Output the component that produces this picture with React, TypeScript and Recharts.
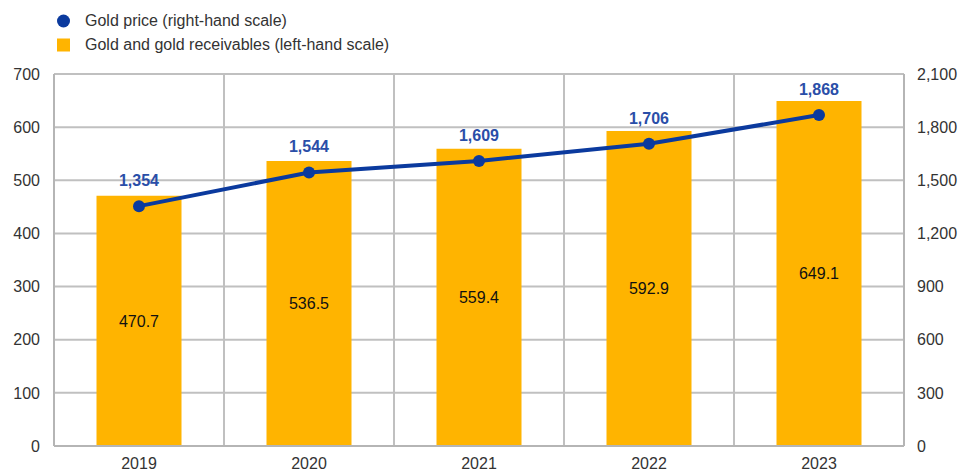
import React from "react";
import {
  ComposedChart,
  Bar,
  Line,
  XAxis,
  YAxis,
  CartesianGrid,
  Legend,
  LabelList,
} from "recharts";

const years = ["2019", "2020", "2021", "2022", "2023"];
const goldHoldings = [470.7, 536.5, 559.4, 592.9, 649.1];
const goldPrice = [1354, 1544, 1609, 1706, 1868];
const leftTicks = [0, 100, 200, 300, 400, 500, 600, 700];
const rightTicks = [0, 300, 600, 900, 1200, 1500, 1800, 2100];

const data = years.map((y, i) => ({
  year: y,
  holdings: goldHoldings[i],
  price: goldPrice[i],
}));

const FONT = "'Liberation Sans', Arial, Helvetica, sans-serif";
const FS = 16;
const BAR = "#FFB400";
const LINE = "#0B3A9E";
const LABEL_BLUE = "#2A4EA8";
const TEXT = "#333333";
const GRID = "#c0c0c0";

const fmt = (v: number) => v.toLocaleString("en-US");

const LegendContent = () => (
  <div style={{ fontFamily: FONT, fontSize: FS, color: TEXT, lineHeight: "24px" }}>
    <div style={{ display: "flex", alignItems: "center", height: 24 }}>
      <svg width={31} height={24}>
        <circle cx={9.5} cy={12} r={6.5} fill={LINE} />
      </svg>
      <span>Gold price (right-hand scale)</span>
    </div>
    <div style={{ display: "flex", alignItems: "center", height: 24 }}>
      <svg width={31} height={24}>
        <rect x={3} y={5.5} width={13} height={13} fill={BAR} />
      </svg>
      <span>Gold and gold receivables (left-hand scale)</span>
    </div>
  </div>
);

export default function App() {
  return (
    <div style={{ position: "absolute", left: 0, top: 0, background: "#fff" }}>
      <ComposedChart
        width={958}
        height={473}
        data={data}
        margin={{ top: 74, right: 0, bottom: 0, left: 0 }}
        barCategoryGap="25%"
      >
        <CartesianGrid
          yAxisId="left"
          stroke={GRID}
          strokeWidth={2}
          verticalCoordinatesGenerator={({ offset }: any) =>
            years
              .map((_, i) => offset.left + ((i + 1) * offset.width) / years.length)
              .slice(0, years.length - 1)
          }
        />
        <XAxis
          dataKey="year"
          tickLine={false}
          axisLine={{ stroke: "#b5b5b5", strokeWidth: 2 }}
          tick={{ fill: TEXT, fontSize: FS, fontFamily: FONT }}
          tickMargin={6}
          height={27}
        />
        <YAxis
          yAxisId="left"
          orientation="left"
          domain={[0, 700]}
          ticks={leftTicks}
          tickLine={false}
          axisLine={{ stroke: "#b5b5b5", strokeWidth: 2 }}
          tick={{ fill: TEXT, fontSize: FS, fontFamily: FONT }}
          tickMargin={8}
          width={54}
          interval={0}
        />
        <YAxis
          yAxisId="right"
          orientation="right"
          domain={[0, 2100]}
          ticks={rightTicks}
          tickLine={false}
          axisLine={{ stroke: "#b5b5b5", strokeWidth: 2 }}
          tick={{ fill: TEXT, fontSize: FS, fontFamily: FONT }}
          tickFormatter={fmt}
          tickMargin={7}
          width={54}
          interval={0}
        />
        <Legend
          content={<LegendContent />}
          layout="horizontal"
          verticalAlign="middle"
          align="center"
          wrapperStyle={{ top: 9, left: 54, width: 500 }}
        />
        <Bar
          yAxisId="left"
          dataKey="holdings"
          name="Gold and gold receivables (left-hand scale)"
          fill={BAR}
          isAnimationActive={false}
        >
          <LabelList
            dataKey="holdings"
            position="center"
            fill="#111"
            fontSize={FS}
            fontFamily={FONT}
            formatter={(v: any) => Number(v).toFixed(1)}
          />
        </Bar>
        <Line
          yAxisId="right"
          dataKey="price"
          name="Gold price (right-hand scale)"
          stroke={LINE}
          strokeWidth={4}
          dot={{ r: 6, fill: LINE, stroke: LINE, strokeWidth: 0 }}
          activeDot={false}
          isAnimationActive={false}
        >
          <LabelList
            dataKey="price"
            position="top"
            offset={20}
            fill={LABEL_BLUE}
            fontSize={FS}
            fontWeight="bold"
            fontFamily={FONT}
            formatter={(v: any) => fmt(Number(v))}
          />
        </Line>
      </ComposedChart>
    </div>
  );
}
